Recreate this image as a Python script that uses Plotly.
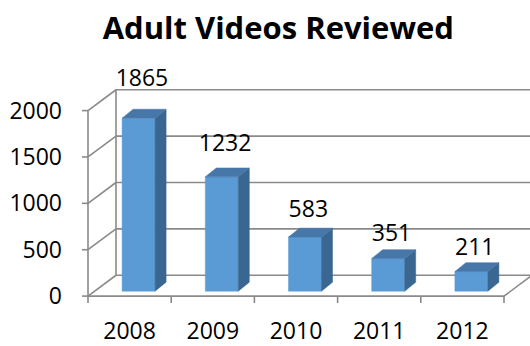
import plotly.graph_objects as go

# ---- data ----
years = ["2008", "2009", "2010", "2011", "2012"]
values = [1865, 1232, 583, 351, 211]
y_ticks = [0, 500, 1000, 1500, 2000]
title = "Adult Videos Reviewed"

# ---- pseudo-3D geometry (in axis units) ----
PX_X = 83.2          # pixels per category
PX_Y = 0.0935        # pixels per value unit
wall_dx = 28 / PX_X
wall_dy = 21 / PX_Y
bar_off_x = 9 / PX_X
bar_off_y = 5 / PX_Y
bar_w = 33 / PX_X
side_dx = 11 / PX_X
side_dy = 9 / PX_Y

grid_col = "#8a8a8a"
front_col = "#5b9bd5"
side_col = "#3a6791"
top_col = "#4677a8"

n = len(years)
x_left = -0.5
x_right = n - 0.5

fig = go.Figure()

def seg(xs, ys, color=grid_col, width=1.6):
    fig.add_trace(go.Scatter(x=xs, y=ys, mode="lines",
                             line=dict(color=color, width=width),
                             hoverinfo="skip", showlegend=False))

def poly(xs, ys, color):
    fig.add_trace(go.Scatter(x=xs + [xs[0]], y=ys + [ys[0]], mode="lines",
                             fill="toself", fillcolor=color,
                             line=dict(color=color, width=0.5),
                             hoverinfo="skip", showlegend=False))

# back wall gridlines + left wall diagonals + y ticks
for v in y_ticks:
    seg([x_left + wall_dx, x_right + wall_dx], [v + wall_dy, v + wall_dy])
    seg([x_left, x_left + wall_dx], [v, v + wall_dy])
    seg([x_left - 6 / PX_X, x_left], [v, v])
# left wall verticals
seg([x_left, x_left], [0, y_ticks[-1]])
seg([x_left + wall_dx, x_left + wall_dx], [wall_dy, y_ticks[-1] + wall_dy])
# floor
seg([x_left, x_right], [0, 0])
seg([x_right, x_right + wall_dx], [0, wall_dy])
# x ticks at category boundaries
for k in range(n + 1):
    b = x_left + k
    seg([b, b], [0, -7 / PX_Y])

# bars
for i, v in enumerate(values):
    x0 = i - bar_w / 2 + bar_off_x
    x1 = x0 + bar_w
    y0 = bar_off_y
    y1 = v + bar_off_y
    # front face
    poly([x0, x1, x1, x0], [y0, y0, y1, y1], front_col)
    # side face
    poly([x1, x1 + side_dx, x1 + side_dx, x1],
         [y0, y0 + side_dy, y1 + side_dy, y1], side_col)
    # top face
    poly([x0, x1, x1 + side_dx, x0 + side_dx],
         [y1, y1, y1 + side_dy, y1 + side_dy], top_col)

# value labels
lab_x = [i + bar_off_x + 0.04 for i in range(n)]
lab_y = [v + bar_off_y + (20 + 0.01 * v) / PX_Y for v in values]
fig.add_trace(go.Scatter(x=lab_x, y=lab_y, mode="text",
                         text=[str(v) for v in values],
                         textposition="middle center",
                         textfont=dict(family="Open Sans", size=23, color="#000000"),
                         hoverinfo="skip", showlegend=False))

# axes mapping: plot area pixels 76..530 (x), 60..310 (y)
L, R, T, B = 76, 530, 60, 310
cx0 = 129.6
xr = [(L - cx0) / PX_X, (R - cx0) / PX_X]
yr = [(298 - B) / PX_Y, (298 - T) / PX_Y]

fig.update_layout(
    width=530, height=346,
    margin=dict(l=L, r=530 - R, t=T, b=346 - B),
    paper_bgcolor="white", plot_bgcolor="white",
    title=dict(text="<b>" + title + "</b>", x=0.525, xanchor="center",
               y=0.92, yanchor="middle", yref="container",
               font=dict(family="Open Sans", size=31, color="#000000")),
    xaxis=dict(range=xr, showgrid=False, zeroline=False, showline=False,
               tickvals=list(range(n)), ticktext=years, ticks="",
               ticklabelstandoff=7,
               tickfont=dict(family="Open Sans", size=23, color="#000000")),
    yaxis=dict(range=yr, showgrid=False, zeroline=False, showline=False,
               tickvals=y_ticks, ticks="", ticklabelstandoff=13,
               tickfont=dict(family="Open Sans", size=23, color="#000000")),
)

fig.write_html("out.html")
